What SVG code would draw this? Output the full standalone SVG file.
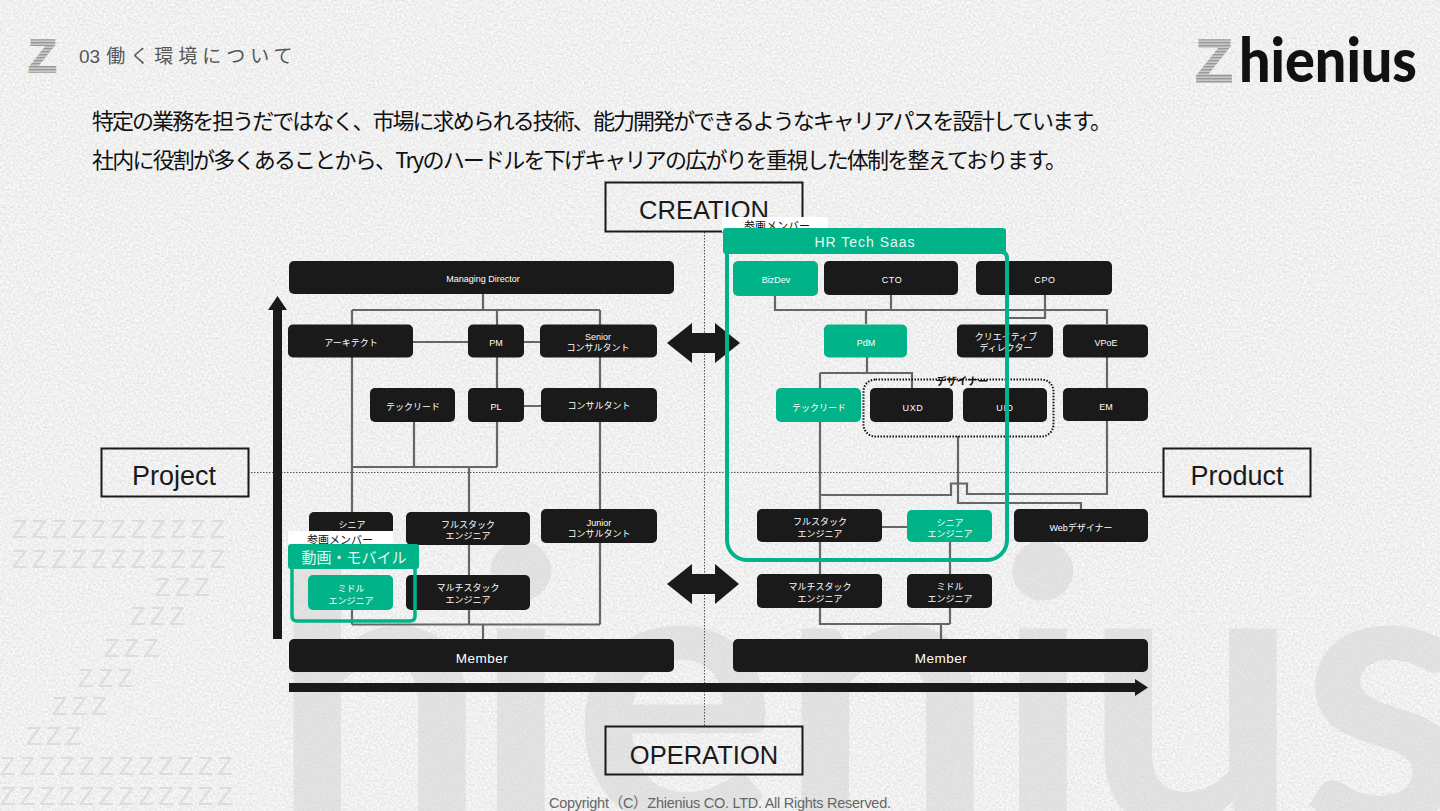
<svg xmlns="http://www.w3.org/2000/svg" width="1440" height="811" viewBox="0 0 1440 811">
<style>
.s{font-family:"Liberation Sans","Noto Sans CJK JP",sans-serif}
.j{font-family:"Noto Sans CJK JP","Liberation Sans",sans-serif}
.n{fill:#1a1a1a}
.g{fill:#00b388}
.t{fill:#fff;font-size:9px;text-anchor:middle;font-family:"Liberation Sans","Noto Sans CJK JP",sans-serif}
.c{fill:none;stroke:#666;stroke-width:2.2}
.dot{fill:none;stroke:#555;stroke-width:1;stroke-dasharray:1.5 1.5}
.box{fill:none;stroke:#1a1a1a;stroke-width:2}
.big{fill:#1a1a1a;font-size:25.500px;text-anchor:middle;font-family:"Liberation Sans",sans-serif}
.zw{fill:#dcdcdc;font-size:25px;letter-spacing:4.500px;font-family:"Liberation Sans",sans-serif}
.a{fill:#1a1a1a}
</style>
<defs>
<filter id="paper" x="0" y="0" width="100%" height="100%" color-interpolation-filters="sRGB">
<feTurbulence type="fractalNoise" baseFrequency="0.45" numOctaves="4" seed="7"/>
<feColorMatrix values="0.16 0 0 0 0.86  0.16 0 0 0 0.86  0.16 0 0 0 0.86  0 0 0 0 1"/>
</filter>
<pattern id="zp" width="3" height="3" patternUnits="userSpaceOnUse"><rect width="3" height="3" fill="#c8c8c8"/><rect width="3" height="1.400" fill="#999"/></pattern>
</defs>
<rect id="bg" width="1440" height="811" fill="#eee" filter="url(#paper)"/>
<g id="watermark">
<text y="826" x="270 472 572 778 994 1083 1300" font-size="385" font-weight="700" fill="#d8d8d8" opacity=".6" style="font-family:Lato,sans-serif">hienius</text>
<text class="zw" x="12" y="538">ZZZZZZZZZZZ</text>
<text class="zw" x="12" y="568">ZZZZZZZZZZZ</text>
<text class="zw" x="155" y="596">ZZZ</text>
<text class="zw" x="130" y="625">ZZZ</text>
<text class="zw" x="104" y="657">ZZZ</text>
<text class="zw" x="78" y="687">ZZZ</text>
<text class="zw" x="52" y="715">ZZZ</text>
<text class="zw" x="26" y="745">ZZZ</text>
<text class="zw" x="0" y="775">ZZZZZZZZZZZZ</text>
<text class="zw" x="0" y="805">ZZZZZZZZZZZZ</text>
</g>
<g id="header">
<text x="28" y="72" font-size="47" font-weight="700" fill="url(#zp)" stroke="url(#zp)" stroke-width="1.500" class="s">Z</text>
<text x="79" y="63" font-size="19" fill="#555" class="j"><tspan class="s">03</tspan><tspan dx="6" letter-spacing="5">働く環境について</tspan></text>
<text x="1195" y="82" font-size="62" font-weight="700" fill="url(#zp)" stroke="url(#zp)" stroke-width="1.500" class="s">Z</text>
<text x="1239" y="82" font-size="60" font-weight="900" fill="#111" textLength="178" lengthAdjust="spacingAndGlyphs" style="font-family:Lato,sans-serif">hienius</text>
<text x="92" y="129" font-size="22" fill="#111" class="j" textLength="1020">特定の業務を担うだではなく、市場に求められる技術、能力開発ができるようなキャリアパスを設計しています。</text>
<text x="92" y="168" font-size="22" fill="#111" class="j" textLength="975">社内に役割が多くあることから、Tryのハードルを下げキャリアの広がりを重視した体制を整えております。</text>
</g>
<g id="axes">
<path class="dot" d="M248 472.500H1163M704.500 232V726"/>
<g id="axis-creation"><rect class="box" x="605.500" y="182.500" width="197" height="49"/><text class="big" x="704" y="219">CREATION</text></g>
<g id="axis-operation"><rect class="box" x="605.500" y="726.500" width="197" height="48"/><text class="big" x="704" y="764">OPERATION</text></g>
<g id="axis-project"><rect class="box" x="101.500" y="448.500" width="147" height="48"/><text class="big" x="174" y="485" style="font-size:27px">Project</text></g>
<g id="axis-product"><rect class="box" x="1163.500" y="448.500" width="147" height="48"/><text class="big" x="1237" y="485" style="font-size:27px">Product</text></g>
<path class="a" d="M273 639V310H268L277.500 296L287 310H282V639Z"/>
<path class="a" d="M289 683H1135V679L1148 687.500L1135 696V692H289Z"/>
<path class="a" d="M667 343L692 323V333H715V323L740 343L715 363V353H692V363Z"/>
<path class="a" d="M667 584L692 564V574H715V564L739 584L715 604V594H692V604Z"/>
</g>
<g id="connectors">
<path class="c" d="M483 294V310M352 310H600M352 310V512M497 310V388M600 310V624.500M413 342H468M524 342H540M524 406H541M414 422V467M497 422V467M352 467H497M469 467V624M352 610V624.500M352 624.500H600M483 624.500V639"/>
<path class="c" d="M775 296V310H1107V324M891 295V310M866 310V324M1045 295V318H1007M1107 357V388M1107 421V494H967V483.500H951V495H820M867 357V373M820 373H912V388M820 373V574M958 436V503H1081V510M882 527H907M950 542V624M820 608V624H950M941 624V639"/>
</g>
<rect class="dot" x="863.500" y="379.500" width="190" height="57" rx="12" style="stroke:#111;stroke-width:2;stroke-dasharray:1.500 1.500"/>
<text x="962" y="385" font-size="10.500" font-weight="700" fill="#111" text-anchor="middle" class="j">デザイナー</text>
<g id="n-md"><rect class="n" x="289" y="261" width="385" height="33" rx="5"/><text class="t" x="483" y="282">Managing Director</text></g>
<g id="n-arch"><rect class="n" x="288" y="324.500" width="125" height="33" rx="5"/><text class="t" x="351" y="346">アーキテクト</text></g>
<g id="n-pm"><rect class="n" x="468" y="324.500" width="56" height="33" rx="5"/><text class="t" x="496" y="346">PM</text></g>
<g id="n-senior"><rect class="n" x="540" y="324.500" width="117" height="33" rx="5"/><text class="t" x="598"><tspan x="598" y="340">Senior</tspan><tspan x="598" y="351">コンサルタント</tspan></text></g>
<g id="n-tl1"><rect class="n" x="370" y="388" width="85" height="34" rx="5"/><text class="t" x="413" y="410">テックリード</text></g>
<g id="n-pl"><rect class="n" x="468" y="388" width="56" height="34" rx="5"/><text class="t" x="496" y="410">PL</text></g>
<g id="n-cons"><rect class="n" x="541" y="388" width="116" height="34" rx="5"/><text class="t" x="599" y="409">コンサルタント</text></g>
<g id="n-senior1"><rect class="n" x="309" y="512" width="84" height="34" rx="5"/><text class="t" x="352" y="528">シニア</text></g>
<g id="n-full1"><rect class="n" x="406" y="512" width="124" height="33" rx="5"/><text class="t" x="468"><tspan x="468" y="528">フルスタック</tspan><tspan x="468" y="539">エンジニア</tspan></text></g>
<g id="n-junior"><rect class="n" x="541" y="509" width="116" height="34" rx="5"/><text class="t" x="599"><tspan x="599" y="526">Junior</tspan><tspan x="599" y="537">コンサルタント</tspan></text></g>
<g id="n-multi1"><rect class="n" x="406" y="575" width="124" height="35" rx="5"/><text class="t" x="468"><tspan x="468" y="591">マルチスタック</tspan><tspan x="468" y="603">エンジニア</tspan></text></g>
<g id="n-member1"><rect class="n" x="289" y="639" width="385" height="33" rx="5"/><text class="t" x="482" y="663" style="font-size:13.500px;letter-spacing:.5px">Member</text></g>
<g id="n-cto"><rect class="n" x="824" y="261" width="134" height="34" rx="5"/><text class="t" x="892" y="283" letter-spacing=".6">CTO</text></g>
<g id="n-cpo"><rect class="n" x="976" y="261" width="136" height="34" rx="5"/><text class="t" x="1045" y="283" letter-spacing=".6">CPO</text></g>
<g id="n-cd"><rect class="n" x="957" y="324.500" width="96" height="33" rx="5"/><text class="t" x="1006"><tspan x="1006" y="340">クリエイティブ</tspan><tspan x="1006" y="351">ディレクター</tspan></text></g>
<g id="n-vpoe"><rect class="n" x="1063" y="324.500" width="85" height="33" rx="5"/><text class="t" x="1106" y="346">VPoE</text></g>
<g id="n-uxd"><rect class="n" x="870" y="388" width="83" height="34" rx="5"/><text class="t" x="913" y="411" letter-spacing=".6">UXD</text></g>
<g id="n-uid"><rect class="n" x="963" y="388" width="84" height="34" rx="5"/><text class="t" x="1005" y="411" letter-spacing=".6">UID</text></g>
<g id="n-em"><rect class="n" x="1063" y="388" width="85" height="33" rx="5"/><text class="t" x="1106" y="410">EM</text></g>
<g id="n-full2"><rect class="n" x="757" y="509" width="125" height="33" rx="5"/><text class="t" x="820"><tspan x="820" y="525">フルスタック</tspan><tspan x="820" y="537">エンジニア</tspan></text></g>
<g id="n-web"><rect class="n" x="1014" y="509" width="134" height="33" rx="5"/><text class="t" x="1081" y="531">Webデザイナー</text></g>
<g id="n-multi2"><rect class="n" x="757" y="574" width="125" height="34" rx="5"/><text class="t" x="820"><tspan x="820" y="590">マルチスタック</tspan><tspan x="820" y="602">エンジニア</tspan></text></g>
<g id="n-mid2"><rect class="n" x="907" y="574" width="85" height="34" rx="5"/><text class="t" x="950"><tspan x="950" y="590">ミドル</tspan><tspan x="950" y="602">エンジニア</tspan></text></g>
<g id="n-member2"><rect class="n" x="733" y="639" width="415" height="33" rx="5"/><text class="t" x="941" y="663" style="font-size:13.500px;letter-spacing:.5px">Member</text></g>
<g id="n-bizdev"><rect class="g" x="733" y="261" width="85" height="35" rx="5"/><text class="t" x="776" y="283">BizDev</text></g>
<g id="n-pdm"><rect class="g" x="824" y="324.500" width="83" height="33" rx="5"/><text class="t" x="866" y="346">PdM</text></g>
<g id="n-tl2"><rect class="g" x="776" y="388" width="85" height="34" rx="5"/><text class="t" x="819" y="411">テックリード</text></g>
<g id="n-senior2"><rect class="g" x="907" y="510" width="85" height="32" rx="5"/><text class="t" x="950"><tspan x="950" y="526">シニア</tspan><tspan x="950" y="537">エンジニア</tspan></text></g>
<g id="n-mid1"><rect class="g" x="308" y="575" width="85" height="35" rx="5"/><text class="t" x="351"><tspan x="351" y="592">ミドル</tspan><tspan x="351" y="604">エンジニア</tspan></text></g>
<g id="team-hr">
<rect x="722" y="217" width="106" height="15" fill="#fff"/>
<text x="777" y="230" font-size="11" fill="#111" text-anchor="middle" class="j">参画メンバー</text>
<rect class="g" x="723" y="228" width="283" height="26" rx="3"/>
<text x="865" y="247" font-size="14" letter-spacing="1" fill="#e6f7f2" text-anchor="middle" class="s">HR Tech Saas</text>
<path d="M727 250V540A20 20 0 0 0 747 560H987A20 20 0 0 0 1007 540V258Q1007 253 1002 252" fill="none" stroke="#00b388" stroke-width="4"/>
</g>
<g id="team-mobile">
<rect x="288" y="531" width="105" height="15" fill="#fff"/>
<text x="340" y="544" font-size="11" fill="#111" text-anchor="middle" class="j">参画メンバー</text>
<rect class="g" x="288" y="544" width="131" height="25" rx="3"/>
<text x="354" y="563" font-size="15" fill="#e6f7f2" text-anchor="middle" class="j">動画・モバイル</text>
<path d="M292 566V616Q292 621 297 621H410Q415 621 415 616V566" fill="none" stroke="#00b388" stroke-width="3.500"/>
</g>
<text id="copyright" x="549" y="808" font-size="14.500" fill="#666" class="s" textLength="342">Copyright（C）Zhienius CO. LTD. All Rights Reserved.</text>
</svg>
